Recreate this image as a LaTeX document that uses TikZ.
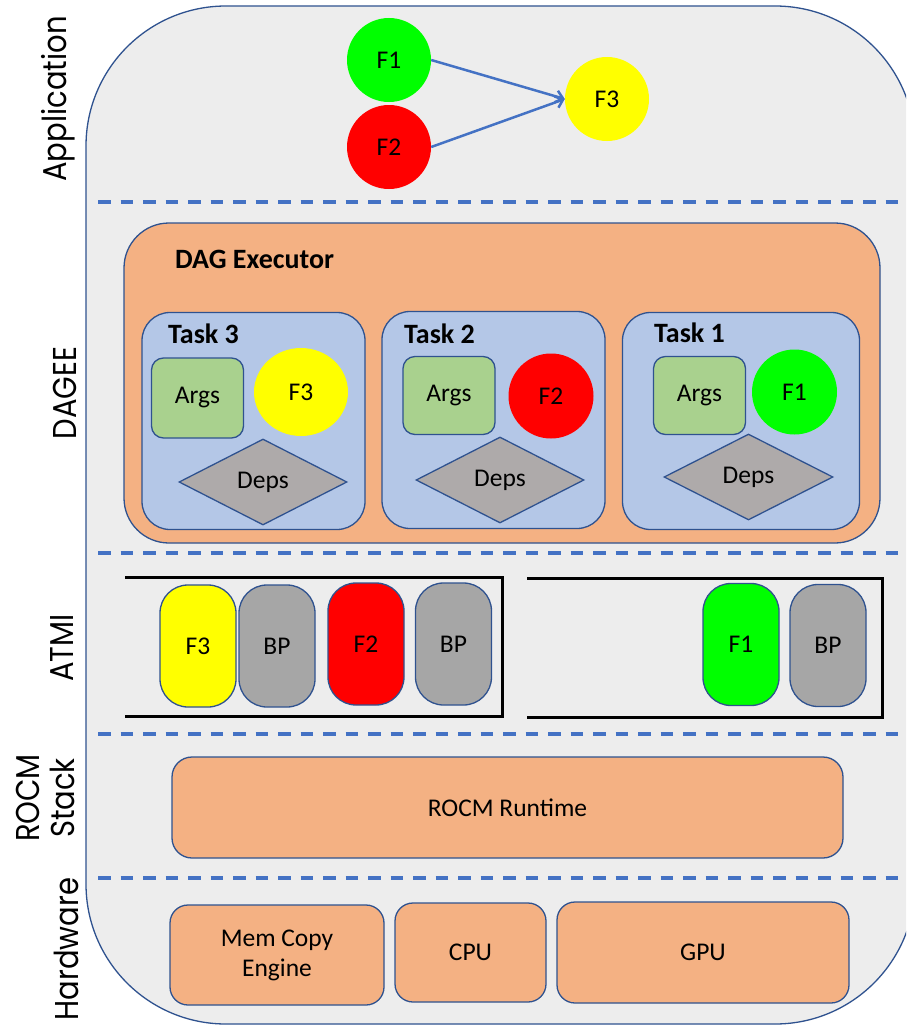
\documentclass[tikz,border=0pt]{standalone}
\usepackage{fontspec}
\setmainfont{Carlito}
\newfontfamily\sidefont{Poppins}
\usetikzlibrary{shapes.geometric,arrows.meta}
\definecolor{cBg}{HTML}{EDEDED}
\definecolor{cEdge}{HTML}{2F528F}
\definecolor{cDash}{HTML}{4472C4}
\definecolor{cOrange}{HTML}{F4B183}
\definecolor{cTask}{HTML}{B4C7E7}
\definecolor{cArgs}{HTML}{A9D18E}
\definecolor{cDeps}{HTML}{AEAAAA}
\definecolor{cBP}{HTML}{A6A6A6}
\definecolor{cGreen}{HTML}{00FF00}
\definecolor{cRed}{HTML}{FF0000}
\definecolor{cYellow}{HTML}{FFFF00}
\newcommand{\sq}[1]{\scalebox{0.88}[1]{#1}}
\tikzset{
  body/.style={font=\fontsize{25.5}{30}\selectfont, text=black, align=center},
  boxed/.style={body, draw=cEdge, line width=1.3pt, inner sep=0pt},
  fcirc/.style={body, circle, inner sep=0pt, minimum size=84pt},
  argsbox/.style={boxed, fill=cArgs, rounded corners=12pt, minimum width=92pt, minimum height=78pt},
  depsbox/.style={boxed, diamond, fill=cDeps, minimum width=168pt, minimum height=86pt},
  taskbox/.style={boxed, fill=cTask, rounded corners=28pt, minimum height=217pt},
  tasklab/.style={font=\fontsize{28}{33}\selectfont\bfseries, inner sep=0pt, anchor=west},
  pill/.style={boxed, rounded corners=28pt, minimum width=76pt, minimum height=122pt},
  orbox/.style={boxed, fill=cOrange, rounded corners=18pt},
  sidelab/.style={font=\fontsize{33}{38}\selectfont\sidefont, inner sep=0pt, rotate=90, align=center},
  layerline/.style={draw=cDash, line width=3.5pt, dash pattern=on 12.5pt off 10pt},
  apparrow/.style={draw=cDash, line width=2.5pt, -{Straight Barb[length=7pt,width=12pt]}},
  bracket/.style={draw=black, line width=3pt, line join=miter}
}
\begin{document}
\begin{tikzpicture}[x=1pt,y=-1pt]
\useasboundingbox (0,0) rectangle (906,1025);
\begin{scope}
\clip (0,0) rectangle (906,1025);
\node[draw=cEdge, fill=cBg, line width=1.3pt, rounded corners=140pt, minimum width=829pt, minimum height=1018pt, inner sep=0pt] (outer) at (500.5,515) {};
\end{scope}

% side labels
\node[sidelab] (lapp) at (58,99) {\sq{Application}};
\node[sidelab] (ldag) at (64.5,393) {\sq{DAGEE}};
\node[sidelab] (latmi) at (62,648) {\sq{ATMI}};
\node[sidelab] (lrocm) at (45,798) {\sq{ROCM}\\[-3pt]\sq{Stack}};
\node[sidelab] (lhw) at (66.5,949) {\sq{Hardware}};

% layer separators
\coordinate (s1a) at (98,202); \coordinate (s1b) at (906,202);
\coordinate (s2a) at (98,553); \coordinate (s2b) at (906,553);
\coordinate (s3a) at (98,734); \coordinate (s3b) at (906,734);
\coordinate (s4a) at (98,878); \coordinate (s4b) at (906,878);
\draw[layerline] (s1a) -- (s1b);
\draw[layerline] (s2a) -- (s2b);
\draw[layerline] (s3a) -- (s3b);
\draw[layerline] (s4a) -- (s4b);

% application
\node[fcirc, fill=cGreen] (af1) at (389,60) {F1};
\node[fcirc, fill=cRed] (af2) at (389,147) {F2};
\node[fcirc, fill=cYellow] (af3) at (607,99) {F3};
\draw[apparrow] (af1.east) -- (af3.west);
\draw[apparrow] (af2.east) -- (af3.west);

% DAGEE
\node[boxed, fill=cOrange, rounded corners=45pt, minimum width=756pt, minimum height=320pt] (dag) at (502,383) {};
\node[tasklab] (daglab) at (175,259) {DAG Executor};

\node[taskbox, minimum width=223pt] (t3) at (253.5,421) {};
\node[taskbox, minimum width=223pt] (t2) at (493.5,420) {};
\node[taskbox, minimum width=237pt] (t1) at (741,421) {};
\node[tasklab] (t3lab) at (168,334) {Task 3};
\node[tasklab] (t2lab) at (404,334) {Task 2};
\node[tasklab] (t1lab) at (654,333) {Task 1};

\node[argsbox, minimum height=80pt] (a3) at (197.5,398) {Args};
\node[body, ellipse, fill=cYellow, inner sep=0pt, minimum width=94pt, minimum height=88pt] (f3) at (301,392) {F3};
\node[depsbox] (d3) at (263,482) {Deps};

\node[argsbox] (a2) at (449,395.5) {Args};
\node[fcirc, fill=cRed, minimum size=85pt] (f2) at (551,396) {F2};
\node[depsbox] (d2) at (500,480) {Deps};

\node[argsbox] (a1) at (699.5,395.5) {Args};
\node[fcirc, fill=cGreen, minimum size=85pt] (f1) at (794.5,392) {F1};
\node[depsbox, minimum width=169pt] (d1) at (748.5,477) {Deps};

% ATMI
\coordinate (qa1) at (125,577); \coordinate (qa2) at (502,577);
\coordinate (qa3) at (502,716); \coordinate (qa4) at (125,716);
\coordinate (qb1) at (527,578); \coordinate (qb2) at (882,578);
\coordinate (qb3) at (882,717); \coordinate (qb4) at (527,717);
\draw[bracket] (qa1) -- (qa2) -- (qa3) -- (qa4);
\draw[bracket] (qb1) -- (qb2) -- (qb3) -- (qb4);

\node[pill, fill=cYellow] (p1) at (198,646) {F3};
\node[pill, fill=cBP] (p2) at (277,646) {BP};
\node[pill, fill=cRed] (p3) at (366,644) {F2};
\node[pill, fill=cBP] (p4) at (453.5,644) {BP};
\node[pill, fill=cGreen] (p5) at (741,644.5) {F1};
\node[pill, fill=cBP] (p6) at (828,645.5) {BP};

% ROCM
\node[orbox, rounded corners=20pt, minimum width=671pt, minimum height=101pt] (rocm) at (507.5,807.5) {ROCM Runtime};

% Hardware
\node[orbox, minimum width=214pt, minimum height=100pt] (mem) at (277,955) {Mem Copy\\Engine};
\node[orbox, minimum width=151pt, minimum height=99pt] (cpu) at (470.5,952.5) {CPU};
\node[orbox, minimum width=292pt, minimum height=101pt] (gpu) at (703,952.5) {GPU};
\end{tikzpicture}
\end{document}
